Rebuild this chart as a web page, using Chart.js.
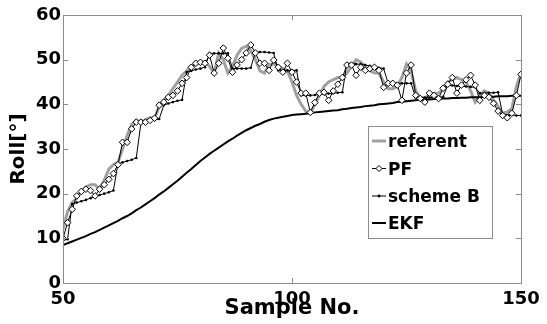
<!DOCTYPE html>
<html>
<head>
<meta charset="utf-8">
<script src="https://cdn.jsdelivr.net/npm/chart.js@4/dist/chart.umd.min.js"></script>
<style>
  html, body { margin: 0; padding: 0; background: #fff; }
  #wrap { width: 547px; height: 324px; }
</style>
</head>
<body>
<div id="wrap"><canvas id="c" width="547" height="324"></canvas></div>
<script>
// Sample numbers along the x axis
const sampleNo = Array.from({ length: 101 }, (_, i) => 50 + i);

// Roll angle [deg] per sample
const referent = [
  12, 16, 18, 19, 20.5, 21.5, 22, 22, 21, 23,
  25.5, 26.5, 27, 30, 33, 35.5, 36.5, 36, 36.5, 37,
  37, 39.5, 41, 42, 43.5, 45, 46.5, 47.5, 48.5, 49,
  49.5, 49.5, 48.5, 47, 51.5, 50, 47, 48.5, 51, 52.5,
  53, 52, 50, 47.5, 47, 49, 49, 48.5, 48, 47.5,
  45, 42, 40, 38.5, 38, 40, 42, 44, 45, 45.5,
  46, 46, 47, 48.5, 50, 49.5, 48.5, 47.5, 47, 47,
  45, 43.5, 43.5, 44, 46, 49, 47.5, 43, 41.5, 41.5,
  42, 42.5, 42.5, 43.5, 45, 45.5, 46, 45.5, 45, 43,
  40.5, 42, 43, 42.5, 41, 39.5, 38, 38.3, 39, 44, 47
];

const pf = [
  10, 13.5, 16.5, 19.5, 20.5, 21, 20.7, 19.5, 21, 22,
  23.2, 24.5, 26.5, 31.5, 31.5, 34.5, 36, 36, 36, 36.4,
  36.9, 39.8, 40.5, 41.6, 42, 43, 44.7, 46, 48.3, 49.2,
  49.4, 49.2, 51, 47, 49.2, 52.6, 50.3, 47.2, 48.8, 50,
  51.5, 53.3, 51.5, 49.2, 49.2, 47.6, 49.9, 48.3, 47.2, 49.2,
  47.2, 45, 42.5, 42.5, 38.2, 40.4, 42.5, 42.7, 40.9, 43,
  44.5, 46, 48.8, 48.8, 46.5, 48.3, 47.6, 48, 48.3, 47.6,
  43.8, 44.7, 44.7, 44.3, 40.9, 47, 48.8, 42, 41.3, 40.5,
  42.5, 42, 41.3, 43.6, 44.5, 46, 42.5, 44.3, 45.5, 46.5,
  44.3, 40.9, 42, 41.6, 40.2, 38.5, 37.5, 37, 38, 42, 46.7
];

const schemeB = [
  9.5, 9.8, 17.7, 18, 18.3, 18.6, 19, 19.3, 19.7, 20,
  20.3, 20.7, 26.7, 27, 27.3, 27.6, 28, 35.7, 36, 36.3,
  36.5, 36.7, 39.8, 40.2, 40.5, 40.8, 41, 47.2, 47.5, 47.8,
  48, 48.3, 51.4, 51.4, 51.4, 51.4, 51.4, 48, 48, 48,
  48, 48.2, 51.7, 51.7, 51.7, 51.6, 51.5, 47.6, 47.6, 47.6,
  47.6, 47.6, 42, 42, 42, 42.1, 42.2, 42.3, 42.4, 42.5,
  42.6, 42.7, 49.2, 49.2, 49, 49, 48.8, 48.6, 48.4, 48.2,
  48, 44.7, 44.7, 44.7, 44.7, 44.7, 44.7, 41.5, 41.5, 41.5,
  41.5, 41.6, 41.6, 41.7, 44.3, 44.2, 44.1, 44, 44, 43.9,
  43.8, 42.5, 42.5, 42.6, 42.6, 42.7, 37.7, 37.6, 37.6, 37.5, 37.5
];

const ekf = [
  8.5, 8.9, 9.3, 9.7, 10.1, 10.5, 11.0, 11.4, 11.9, 12.4,
  12.9, 13.4, 13.9, 14.5, 15.0, 15.6, 16.3, 16.9, 17.6, 18.3,
  19.0, 19.8, 20.5, 21.3, 22.1, 22.9, 23.8, 24.7, 25.5, 26.4,
  27.3, 28.1, 28.9, 29.6, 30.3, 31.0, 31.7, 32.3, 33.0, 33.6,
  34.2, 34.7, 35.2, 35.6, 36.1, 36.5, 36.8, 37.0, 37.2, 37.4,
  37.6, 37.7, 37.8, 37.9, 38.0, 38.2, 38.3, 38.4, 38.5, 38.6,
  38.7, 38.9, 39.0, 39.2, 39.3, 39.4, 39.6, 39.7, 39.8, 40.0,
  40.1, 40.2, 40.3, 40.5, 40.6, 40.7, 40.8, 40.9, 41.0, 41.0,
  41.1, 41.2, 41.2, 41.3, 41.3, 41.4, 41.4, 41.5, 41.5, 41.6,
  41.6, 41.6, 41.7, 41.7, 41.7, 41.8, 41.8, 41.8, 41.9, 41.9, 41.9
];

const xTicks = [50, 100, 150];
const yTicks = [0, 10, 20, 30, 40, 50, 60];
const seriesNames = ['referent', 'PF', 'scheme B', 'EKF'];

const FONT = '"DejaVu Sans", "Liberation Sans", sans-serif';
const GREY = '#a0a0a0';
const FRAME = '#8c8c8c';

const pts = (arr) => arr.map((v, i) => ({ x: sampleNo[i], y: v }));

// Box around the plot with inward ticks, plus the legend inside the plot
const framePlugin = {
  id: 'frame',
  afterDraw(chart) {
    const { ctx, chartArea: a, scales } = chart;
    ctx.save();
    ctx.strokeStyle = FRAME;
    ctx.lineWidth = 1;
    ctx.strokeRect(Math.round(a.left) + 0.5, Math.round(a.top) + 0.5,
                   Math.round(a.right - a.left), Math.round(a.bottom - a.top));
    const tl = 5;
    ctx.beginPath();
    yTicks.forEach(t => {
      const y = Math.round(scales.y.getPixelForValue(t)) + 0.5;
      ctx.moveTo(a.left, y); ctx.lineTo(a.left + tl, y);
      ctx.moveTo(a.right, y); ctx.lineTo(a.right - tl, y);
    });
    xTicks.forEach(t => {
      const x = Math.round(scales.x.getPixelForValue(t)) + 0.5;
      ctx.moveTo(x, a.bottom); ctx.lineTo(x, a.bottom - tl);
      ctx.moveTo(x, a.top); ctx.lineTo(x, a.top + tl);
    });
    ctx.stroke();

    // legend
    const bx = 368.5, by = 126.5, bw = 124, bh = 112;
    ctx.fillStyle = '#fff';
    ctx.fillRect(bx, by, bw, bh);
    ctx.strokeStyle = FRAME;
    ctx.strokeRect(bx, by, bw, bh);
    const baselines = [147, 174.5, 202, 229];
    const x0 = 372, x1 = 386, xm = 379;
    ctx.font = 'bold 17px ' + FONT;
    ctx.textBaseline = 'alphabetic';
    ctx.textAlign = 'left';
    seriesNames.forEach((name, i) => {
      const yb = baselines[i];
      const yc = yb - 6;
      ctx.beginPath();
      ctx.strokeStyle = i === 0 ? GREY : '#000';
      ctx.lineWidth = i === 0 ? 3 : (i === 3 ? 2 : 1);
      ctx.moveTo(x0, yc); ctx.lineTo(x1, yc);
      ctx.stroke();
      if (i === 1) {
        ctx.beginPath();
        ctx.moveTo(xm, yc - 3); ctx.lineTo(xm + 3, yc);
        ctx.lineTo(xm, yc + 3); ctx.lineTo(xm - 3, yc); ctx.closePath();
        ctx.fillStyle = '#fff'; ctx.fill();
        ctx.lineWidth = 1; ctx.strokeStyle = '#000'; ctx.stroke();
      } else if (i === 2) {
        ctx.beginPath();
        ctx.arc(xm, yc, 1.4, 0, Math.PI * 2);
        ctx.fillStyle = '#000'; ctx.fill();
      }
      ctx.fillStyle = '#000';
      ctx.fillText(name, 388, yb);
    });
    ctx.restore();
  }
};

new Chart(document.getElementById('c'), {
  type: 'line',
  data: {
    datasets: [
      { label: seriesNames[0], data: pts(referent), borderColor: GREY, borderWidth: 3,
        pointRadius: 0, order: 4 },
      { label: seriesNames[1], data: pts(pf), borderColor: '#000', borderWidth: 1,
        pointStyle: 'rectRot', pointRadius: 3.3, pointBackgroundColor: '#fff',
        pointBorderColor: '#000', pointBorderWidth: 1, order: 1 },
      { label: seriesNames[2], data: pts(schemeB), borderColor: '#000', borderWidth: 1,
        pointStyle: 'circle', pointRadius: 1.3, pointBackgroundColor: '#000',
        pointBorderColor: '#000', pointBorderWidth: 0, order: 2 },
      { label: seriesNames[3], data: pts(ekf), borderColor: '#000', borderWidth: 2,
        pointRadius: 0, order: 3 }
    ]
  },
  options: {
    responsive: false,
    animation: false,
    layout: { padding: { left: 0, top: 15, right: 26, bottom: 0 } },
    plugins: { legend: { display: false }, tooltip: { enabled: false } },
    scales: {
      x: {
        type: 'linear', min: 50, max: 150,
        afterBuildTicks: (s) => { s.ticks = xTicks.map(v => ({ value: v })); },
        afterFit: (s) => { s.height = 41; },
        grid: { display: false, drawTicks: false },
        border: { display: false },
        ticks: { color: '#000', font: { family: FONT, size: 18, weight: 'bold' }, padding: 6, maxRotation: 0 },
        title: { display: true, text: 'Sample No.', color: '#000',
                 font: { family: FONT, size: 21, weight: 'bold' }, padding: { top: 0, bottom: 3 } }
      },
      y: {
        min: 0, max: 60,
        afterBuildTicks: (s) => { s.ticks = yTicks.map(v => ({ value: v })); },
        afterFit: (s) => { s.width = 63; },
        grid: { display: false, drawTicks: false },
        border: { display: false },
        ticks: { color: '#000', font: { family: FONT, size: 18, weight: 'bold' }, padding: 2 },
        title: { display: true, text: 'Roll[°]', color: '#000',
                 font: { family: FONT, size: 20, weight: 'bold' }, padding: { top: 7, bottom: 0 } }
      }
    }
  },
  plugins: [framePlugin]
});
</script>
</body>
</html>
